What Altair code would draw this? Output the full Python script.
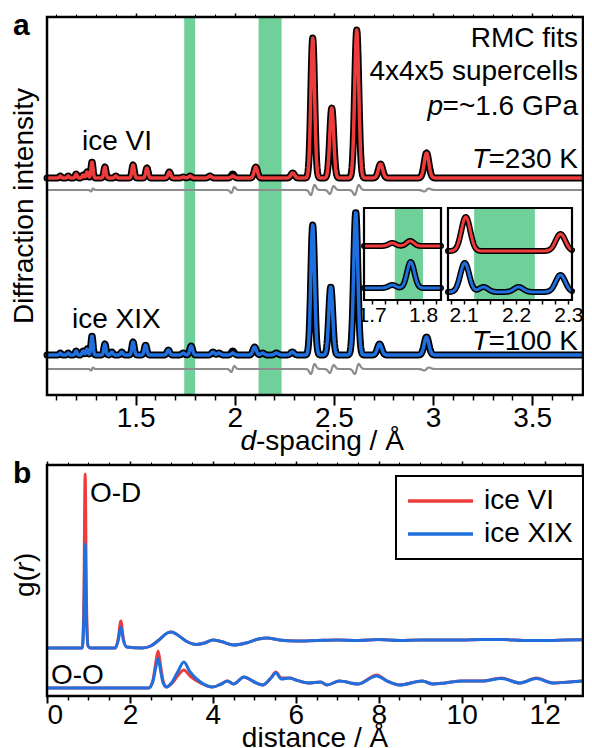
import altair as alt
import numpy as np
import pandas as pd

FONT = "Liberation Sans"
FS = 28
RED = "#EE3B3B"
BLUE = "#1F6FDF"
GREEN = "#70D09A"
GRAY = "#8C8C8C"

# ---------------- panel a : values ----------------
d_domain = [1.053, 3.756]
band_start = [1.745, 2.12]
band_end = [1.80, 2.236]

# ice VI (T = 230 K): peak positions (d / Å) and heights (arb. units)
vi_d = [1.12, 1.16, 1.20, 1.235, 1.255, 1.28, 1.345, 1.40, 1.487, 1.557, 1.67,
        1.74, 1.775, 1.875, 1.99, 2.106, 2.292, 2.393, 2.489, 2.615, 2.735, 2.967]
vi_obs = [2, 2, 4, 3, 6, 16, 11, 2, 13, 10, 6, 1, 2, 2, 2, 11, 5, 140, 70, 148, 14, 25]
vi_fit = [2, 2, 4, 3, 6, 16, 11, 2, 13, 10, 6, 1, 2, 2, 4, 11, 5, 140, 70, 148, 14, 25]

# ice XIX (T = 100 K)
xix_d = [1.12, 1.16, 1.20, 1.235, 1.255, 1.28, 1.345, 1.38, 1.43, 1.487, 1.55, 1.665,
         1.74, 1.78, 1.89, 1.92, 1.99, 2.10, 2.14, 2.21, 2.29, 2.393, 2.484, 2.61, 2.73, 2.967]
xix_obs = [2, 2, 4, 4, 6, 19, 11, 3, 3, 13, 10, 5, 2, 9, 3, 2, 2, 8, 2, 2, 3, 130, 68, 143, 11, 18]
xix_fit = [2, 2, 4, 4, 6, 19, 11, 3, 3, 13, 10, 5, 2, 9, 3, 2, 4, 8, 2, 2, 3, 130, 68, 143, 11, 18]

# difference curves (obs - fit) residual wiggles
diff_d = [1.28, 1.99, 2.393, 2.489, 2.615, 2.967]
vi_diff = [1.5, 3, 5, 4, 5, 1.5]
xix_diff = [1.5, 3, 5, 4, 5, 1.5]

# vertical offsets of the stacked patterns
vi_base, vi_diff_base = 217, 205
xix_base, xix_diff_base = 40, 26

# layout (pixels)
W = 536
A_H = 378          # panel a plot height
B_TOP = 448        # panel b top, measured from panel a top
B_H = 231          # panel b plot height
H = B_TOP + B_H

# insets (pixel box inside panel a: x from left, y from top)
in1_domain = [1.685, 1.835]
in2_domain = [2.07, 2.307]
in1_box = [317, 394]
in2_box = [401, 525]
in_top, in_bottom = 191, 283
in1_ticks = [1.7, 1.725, 1.75, 1.775, 1.8, 1.825]
in2_ticks = [2.075, 2.1, 2.125, 2.15, 2.175, 2.2, 2.225, 2.25, 2.275, 2.3]
in1_vi_d, in1_vi_h, in1_vi_base = [1.74, 1.775], [3, 5], 54
in1_xix_d, in1_xix_h, in1_xix_base = [1.74, 1.776], [3, 26], 12
in2_vi_d, in2_vi_h, in2_vi_base = [2.104, 2.285], [34, 17], 49
in2_xix_d, in2_xix_h, in2_xix_base = [2.102, 2.138, 2.205, 2.285], [29, 5, 5, 17], 8
in_ymax = 92

# ---------------- panel b : g(r) ----------------
r_domain = [0, 12.925]
od_r = [0, 0.85, 0.89, 0.92, 0.95, 0.99, 1.05, 1.65, 1.72, 1.78, 1.84, 1.92, 2.3, 2.5, 2.7,
        2.9, 3.0, 3.15, 3.35, 3.6, 3.8, 4.0, 4.2, 4.5, 4.8, 5.1, 5.3, 5.6, 6.0, 6.5, 7.0,
        7.5, 8.0, 8.5, 9.0, 10.0, 10.5, 11.0, 11.5, 12.0, 12.5, 13.1]
od_vi = [48, 48, 100, 222, 100, 50, 48, 48, 58, 75, 58, 49, 48, 50, 56,
         63, 64, 61, 55, 51.5, 53, 56, 54.5, 51, 53, 57, 58, 56, 55, 55.5, 56,
         55.5, 56.5, 55.5, 56, 56, 56.5, 56.5, 55.5, 55.5, 56, 56.5]
od_xix = [48, 48, 80, 152, 80, 50, 48, 48, 56, 69, 56, 49, 48, 50, 56,
          63, 64, 61, 55, 51.5, 53, 56, 54.5, 51, 53, 57, 58, 56, 55, 55.5, 56,
          55.5, 56.5, 55.5, 56, 56, 56.5, 56.5, 55.5, 55.5, 56, 56.5]
oo_r = [0, 2.45, 2.55, 2.63, 2.68, 2.74, 2.8, 2.88, 3.0, 3.15, 3.3, 3.45, 3.7, 4.0, 4.2,
        4.35, 4.5, 4.75, 5.0, 5.2, 5.4, 5.52, 5.65, 5.85, 6.0, 6.3, 6.6, 6.75, 7.05, 7.5,
        7.95, 8.2, 8.5, 9.05, 9.3, 9.6, 10.0, 10.5, 10.96, 11.4, 11.8, 12.2, 12.6, 13.1]
oo_vi = [8, 8, 15, 35, 45, 30, 15, 9, 12, 20, 26, 20, 13, 9, 12,
         15, 12, 19, 14, 11, 18, 24, 18, 18, 16, 13, 14, 11, 15, 12,
         21, 15, 11, 15, 12, 13, 15, 15, 18, 13, 18, 13, 14, 16]
oo_xix = [8, 8, 14, 30, 37.5, 25, 13, 9, 13, 24, 34, 24, 14, 9, 12,
          15, 12, 19, 14, 11, 18, 23, 17, 18, 16, 13, 14, 11, 15, 12,
          20, 15, 11, 15, 12, 13, 15, 15, 17.5, 13, 17.5, 13, 14, 15.5]


# ---------------- helpers ----------------
def pattern(x, centers, heights, base):
    y = np.full(x.shape, float(base))
    for c, h in zip(centers, heights):
        s = 0.004 * c
        y = y + h * np.exp(-0.5 * ((x - c) / s) ** 2)
    return pd.DataFrame({"d": np.round(x, 5), "y": np.round(y, 3)})


def residual(x, centers, amps, base):
    y = np.full(x.shape, float(base))
    for c, a in zip(centers, amps):
        s = 0.004 * c
        u = (x - c) / s
        y = y + a * u * np.exp(0.5 - 0.5 * u ** 2)
    return pd.DataFrame({"d": np.round(x, 5), "y": np.round(y, 3)})


def label(text, x, y, align="left", size=FS, style="normal", weight="normal",
          angle=0, baseline="alphabetic"):
    return alt.Chart(pd.DataFrame({"k": [0]})).mark_text(
        text=text, align=align, baseline=baseline, font=FONT, fontSize=size,
        fontStyle=style, fontWeight=weight, angle=angle, color="black"
    ).encode(x=alt.value(x), y=alt.value(y))


def line(df, xs, ys, color, width, xf="d", yf="y"):
    return alt.Chart(df).mark_line(
        color=color, strokeWidth=width, strokeJoin="round", strokeCap="round"
    ).encode(
        x=alt.X(f"{xf}:Q", scale=xs, axis=None),
        y=alt.Y(f"{yf}:Q", scale=ys, axis=None),
    )


def box(x0, x1, y0, y1, xs, ys, **mark):
    df = pd.DataFrame({"x0": [x0], "x1": [x1], "y0": [y0], "y1": [y1]})
    return alt.Chart(df).mark_rect(**mark).encode(
        x=alt.X("x0:Q", scale=xs, axis=None), x2="x1:Q",
        y=alt.Y("y0:Q", scale=ys, axis=None), y2="y1:Q")


def tick_axis(vals, xs, orient, size, width, labels=False, fmt="~g",
              offset=0, lsize=FS, expr=None, lpad=0):
    ax = dict(values=vals, orient=orient, tickSize=size, tickWidth=width,
              tickColor="black", domain=False, grid=False, labels=labels,
              title=None, offset=offset)
    if labels:
        ax.update(format=fmt, labelFont=FONT, labelFontSize=lsize,
                  labelColor="black", labelPadding=lpad)
        if expr:
            ax.update(labelExpr=expr)
    return alt.Chart(pd.DataFrame({"t": vals})).mark_point(opacity=0).encode(
        x=alt.X("t:Q", scale=xs, axis=alt.Axis(**ax)),
        y=alt.value(0),
    )


# ---------------- panel a ----------------
xa = alt.Scale(domain=d_domain, nice=False, zero=False)
ya = alt.Scale(domain=[-(H - A_H), A_H], nice=False, zero=False)   # 1 unit = 1 px
grid = np.arange(d_domain[0], d_domain[1] + 1e-9, 0.002)

a_major = [1.5, 2, 2.5, 3, 3.5]
a_minor = [round(v, 1) for v in np.arange(1.1, 3.75, 0.1) if round(v, 1) not in a_major]

layers = [
    box(band_start[0], band_end[0], 0, A_H, xa, ya, color=GREEN),
    box(band_start[1], band_end[1], 0, A_H, xa, ya, color=GREEN),
    line(residual(grid, diff_d, vi_diff, vi_diff_base), xa, ya, GRAY, 2.2),
    line(residual(grid, diff_d, xix_diff, xix_diff_base), xa, ya, GRAY, 2.2),
    line(pattern(grid, vi_d, vi_fit, vi_base), xa, ya, "black", 7),
    line(pattern(grid, vi_d, vi_obs, vi_base), xa, ya, RED, 3.5),
    line(pattern(grid, xix_d, xix_fit, xix_base), xa, ya, "black", 7),
    line(pattern(grid, xix_d, xix_obs, xix_base), xa, ya, BLUE, 3.5),
    box(d_domain[0], d_domain[1], 0, A_H, xa, ya, fillOpacity=0, stroke="black", strokeWidth=2.5),
    tick_axis(a_major, xa, "bottom", 10, 2, labels=True, offset=-(H - A_H), lpad=-1),
    tick_axis(a_minor, xa, "bottom", 5, 1.5, offset=-(H - A_H)),
    tick_axis(a_major, xa, "top", 4, 1.5),
    tick_axis(a_minor, xa, "top", 3, 1),
]


def inset_layers(dom, bx, ticks, band, curves):
    k = (bx[1] - bx[0]) / (dom[1] - dom[0])
    xs = alt.Scale(domain=[dom[0] - bx[0] / k, dom[1] + (W - bx[1]) / k],
                   nice=False, zero=False)
    b0 = H - in_bottom          # inset bottom, px from chart bottom
    ys = alt.Scale(domain=[-b0, H - b0], nice=False, zero=False)
    out = [box(dom[0], dom[1], 0, in_ymax, xs, ys, fill="white"),
           box(band[0], band[1], 0, in_ymax, xs, ys, color=GREEN)]
    g = np.arange(dom[0], dom[1] + 1e-9, 0.0005)
    for (cd, ch, cb, col) in curves:
        out.append(line(pattern(g, cd, ch, cb), xs, ys, "black", 6))
        out.append(line(pattern(g, cd, ch, cb), xs, ys, col, 3))
    out.append(box(dom[0], dom[1], 0, in_ymax, xs, ys, fillOpacity=0, stroke="black",
                   strokeWidth=2.2))
    out.append(tick_axis(ticks, xs, "bottom", 4, 1.5, labels=True,
                         offset=-(H - in_bottom), lsize=21,
                         expr="(round(datum.value*1000) % 100 == 0) ? format(datum.value, '.1f') : ''"))
    return out


layers += inset_layers(in1_domain, in1_box, in1_ticks, [band_start[0], band_end[0]],
                       [(in1_vi_d, in1_vi_h, in1_vi_base, RED),
                        (in1_xix_d, in1_xix_h, in1_xix_base, BLUE)])
layers += inset_layers(in2_domain, in2_box, in2_ticks, [band_start[1], band_end[1]],
                       [(in2_vi_d, in2_vi_h, in2_vi_base, RED),
                        (in2_xix_d, in2_xix_h, in2_xix_base, BLUE)])

layers += [
    label("a", -34, 18, size=30, weight="bold"),
    label("Diffraction intensity", -22, 189, align="center", angle=270, baseline="middle"),
    label("RMC fits", 531, 30, align="right"),
    label("4x4x5 supercells", 531, 63, align="right"),
    label("=~1.6 GPa", 531, 98, align="right"),
    label("p", 531 - 135, 98, align="right", style="italic"),
    label("=230 K", 531, 151, align="right"),
    label("T", 531 - 89, 151, align="right", style="italic"),
    label("=100 K", 531, 333, align="right"),
    label("T", 531 - 89, 333, align="right", style="italic"),
    label("ice VI", 35, 133),
    label("ice XIX", 25, 311),
    label("d", 209, 433, align="right", style="italic"),
    label("-spacing / Å", 209, 433),
]

# ---------------- panel b ----------------
xb = alt.Scale(domain=r_domain, nice=False, zero=False)
yb = alt.Scale(domain=[0, H], nice=False, zero=False)        # 1 unit = 1 px
cscale = alt.Scale(domain=["ice VI", "ice XIX"], range=[RED, BLUE])
legend = alt.Legend(orient="none", legendX=349, legendY=B_TOP + 11, title=None,
                    fillColor="white", strokeColor="black", padding=10, labelFont=FONT,
                    labelFontSize=FS, labelColor="black", symbolType="stroke",
                    symbolStrokeWidth=3.5, symbolSize=4225, clipHeight=30,
                    labelOffset=9, rowPadding=3)

gr_rows = []
for comp, rr, vv, xx in [("O-D", od_r, od_vi, od_xix), ("O-O", oo_r, oo_vi, oo_xix)]:
    for r, a_, b_ in zip(rr, vv, xx):
        gr_rows.append({"r": r, "g": a_, "phase": "ice VI", "comp": comp})
        gr_rows.append({"r": r, "g": b_, "phase": "ice XIX", "comp": comp})
gr = pd.DataFrame(gr_rows)


def gr_line(phase, show_legend):
    return alt.Chart(gr[gr.phase == phase]).mark_line(
        strokeWidth=3, interpolate="monotone", strokeJoin="round", clip=True).encode(
        x=alt.X("r:Q", scale=xb, axis=None),
        y=alt.Y("g:Q", scale=yb, axis=None),
        color=alt.Color("phase:N", scale=cscale, legend=legend if show_legend else None),
        detail="comp:N")


b_major = [0, 2, 4, 6, 8, 10, 12]
b_minor = [v for v in np.arange(0.5, 12.91, 0.5).round(1).tolist() if v not in b_major]

layers += [
    gr_line("ice VI", True),
    gr_line("ice XIX", False),
    box(r_domain[0], r_domain[1], 0, B_H, xb, yb, fillOpacity=0, stroke="black", strokeWidth=2.5),
    tick_axis(b_major, xb, "bottom", 7, 2, labels=True, fmt="d", lpad=-2),
    tick_axis(b_minor, xb, "bottom", 4, 1.5),
    tick_axis(b_major, xb, "top", 4, 1.5, offset=-B_TOP),
    tick_axis(b_minor, xb, "top", 3, 1, offset=-B_TOP),
    label("b", -34, B_TOP + 18, size=30, weight="bold"),
    label("g(", -21, B_TOP + 132, align="left", angle=270, baseline="middle"),
    label("r", -21, B_TOP + 107, align="left", angle=270, baseline="middle", style="italic"),
    label(")", -21, B_TOP + 97, align="left", angle=270, baseline="middle"),
    label("O-D", 43, B_TOP + 37),
    label("O-O", 4, B_TOP + 219),
    label("distance / Å", W / 2, H + 51, align="center"),
]

chart = alt.layer(*layers).resolve_scale(
    x="independent", y="independent", color="shared"
).properties(
    width=W, height=H,
    autosize=alt.AutoSizeParams(type="none"),
    padding={"left": 39, "top": 9, "right": 1, "bottom": 52},
).configure_view(strokeWidth=0).configure_legend(strokeWidth=2)

chart.save("out.html", embed_options={"renderer": "svg", "actions": False})
